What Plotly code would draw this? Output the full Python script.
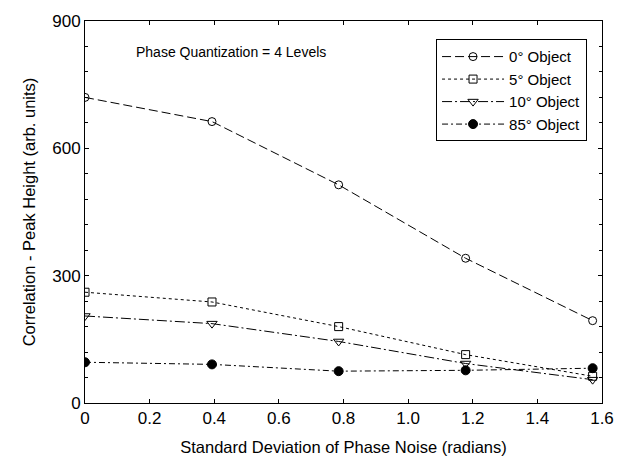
import plotly.graph_objects as go

x = [0.0, 0.393, 0.785, 1.178, 1.571]
obj0 = [720, 663, 514, 341, 194]
obj5 = [261, 238, 180, 114, 63]
obj10 = [205, 187, 145, 93, 55]
obj85 = [96, 91, 75, 77, 82]

names = ["0° Object", "5° Object", "10° Object", "85° Object"]
series = [obj0, obj5, obj10, obj85]
symbols = ["circle-open", "square-open", "triangle-down-open", "circle"]
dashes = ["9px,4px", "3px,3px", "10px,3px,2px,3px", "6px,3px,2px,3px"]
sizes = [8, 8, 9, 9]

fig = go.Figure()
for n, s, sym, d, sz in zip(names, series, symbols, dashes, sizes):
    fig.add_trace(go.Scatter(
        x=x, y=s, name=n, mode="lines+markers",
        line=dict(color="black", width=1, dash=d),
        marker=dict(symbol=sym, size=sz, color="black", line=dict(color="black", width=1)),
    ))

font = "Liberation Sans, Arial, sans-serif"
fig.update_layout(
    width=626, height=466,
    margin=dict(l=85, r=14, t=19, b=61),
    plot_bgcolor="white", paper_bgcolor="white",
    font=dict(family=font, size=17, color="black"),
    showlegend=True,
    legend=dict(
        x=0.679, y=0.952, xanchor="left", yanchor="top",
        bordercolor="black", borderwidth=1, bgcolor="white",
        font=dict(size=15), tracegroupgap=0, itemwidth=62,
    ),
    annotations=[dict(
        x=0.095, y=0.92, xref="paper", yref="paper", xanchor="left", yanchor="middle",
        text="Phase Quantization = 4 Levels", showarrow=False, font=dict(size=14),
    )],
)
fig.update_xaxes(
    range=[0, 1.6], tickvals=[0, 0.2, 0.4, 0.6, 0.8, 1.0, 1.2, 1.4, 1.6],
    ticktext=["0", "0.2", "0.4", "0.6", "0.8", "1.0", "1.2", "1.4", "1.6"],
    ticks="inside", ticklen=4, tickcolor="black", showgrid=False, zeroline=False,
    showline=True, linecolor="black", linewidth=1, mirror="ticks",
    title=dict(text="Standard Deviation of Phase Noise (radians)", font=dict(size=16.5), standoff=14),
)
fig.update_yaxes(
    range=[0, 900], tickvals=[0, 300, 600, 900],
    ticks="inside", ticklen=4, tickcolor="black", showgrid=False, zeroline=False,
    showline=True, linecolor="black", linewidth=1, mirror="ticks",
    minor=dict(tickvals=[60, 120, 180, 240, 360, 420, 480, 540, 660, 720, 780, 840], ticks="inside", ticklen=3, tickcolor="black"),
    title=dict(text="Correlation - Peak Height (arb. units)", font=dict(size=16.5), standoff=12),
)
fig.write_html("out.html")
